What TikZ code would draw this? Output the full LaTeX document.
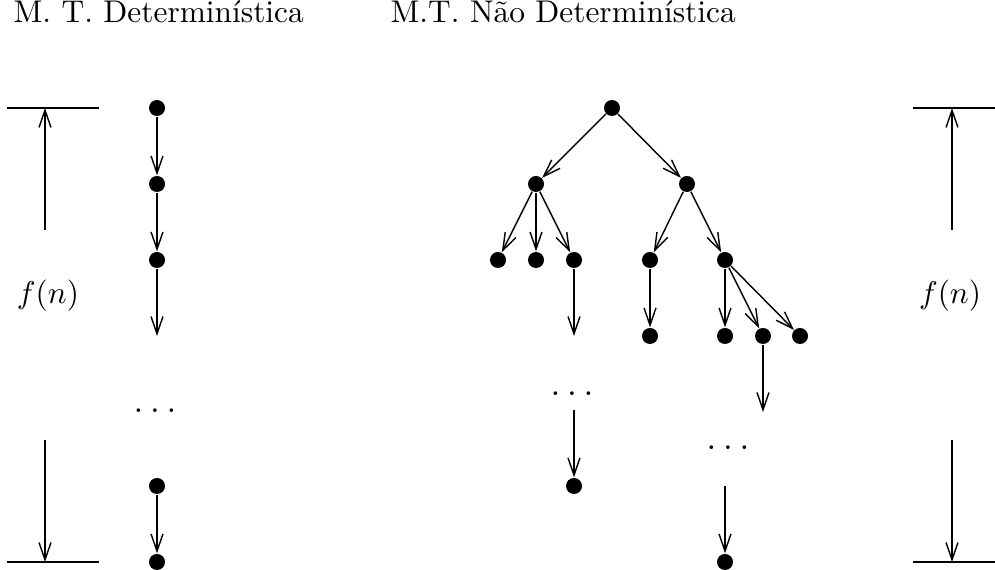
\documentclass[tikz,border=0pt]{standalone}
\usetikzlibrary{arrows.meta}
\begin{document}
\begin{tikzpicture}[x=0.3185pt,y=-0.3185pt,
  dot/.style={circle,fill,inner sep=0pt,minimum size=5.1pt},
  tip/.style={-{Straight Barb[length=5.5pt,width=3.8pt,line width'=0.45pt]}},
  thickarr/.style={tip,line width=0.85pt},
  midarr/.style={tip,line width=0.6pt},
  thinarr/.style={tip,line width=0.45pt},
  bar/.style={line width=0.85pt},
  lbl/.style={inner sep=0pt},
  ell/.style={inner sep=0pt,font=\fontsize{11.5}{14}\selectfont}]
\useasboundingbox (0,0) rectangle (995,570);

% titles
\node[lbl,anchor=base west] (t1) at (13,23) {M. T. Determinística};
\node[lbl,anchor=base west] (t2) at (390,23) {M.T. Não Determinística};

% left bracket
\coordinate (la) at (7,108); \coordinate (lb) at (99,108);
\coordinate (lc) at (7,562); \coordinate (ld) at (99,562);
\coordinate (lt) at (45,108); \coordinate (lbt) at (45,562);
\coordinate (ls1) at (45,230); \coordinate (ls2) at (45,440);
\draw[bar] (la) -- (lb);
\draw[bar] (lc) -- (ld);
\draw[midarr] (ls1) -- (lt);
\draw[midarr] (ls2) -- (lbt);
\node[lbl] (lf) at (48,296) {$f(n)$};

% right bracket
\coordinate (ra) at (913,108); \coordinate (rb) at (995,108);
\coordinate (rc) at (913,562); \coordinate (rd) at (995,562);
\coordinate (rt) at (952,108); \coordinate (rbt) at (952,562);
\coordinate (rs1) at (952,230); \coordinate (rs2) at (952,440);
\draw[bar] (ra) -- (rb);
\draw[bar] (rc) -- (rd);
\draw[midarr] (rs1) -- (rt);
\draw[midarr] (rs2) -- (rbt);
\node[lbl] (rf) at (950,296) {$f(n)$};

% deterministic chain
\node[dot] (d1) at (157,108) {};
\node[dot] (d2) at (157,184) {};
\node[dot] (d3) at (157,260) {};
\coordinate (d4) at (157,336);
\node[ell] (ddots) at (155,411) {$\ldots$};
\node[dot] (d5) at (157,486) {};
\node[dot] (d6) at (157,562) {};
\draw[thickarr] (d1) -- (d2);
\draw[thickarr] (d2) -- (d3);
\draw[thickarr] (d3) -- (d4);
\draw[thickarr] (d5) -- (d6);

% non-deterministic tree
\node[dot] (r) at (612,108) {};
\node[dot] (a) at (536,184) {};
\node[dot] (b) at (687,184) {};
\node[dot] (a1) at (498,260) {};
\node[dot] (a2) at (536,260) {};
\node[dot] (a3) at (574,260) {};
\node[dot] (b1) at (650,260) {};
\node[dot] (b2) at (725,260) {};
\coordinate (a3e) at (574,336);
\node[dot] (b1a) at (650,336) {};
\node[dot] (b2a) at (725,336) {};
\node[dot] (b2b) at (763,336) {};
\node[dot] (b2c) at (800,336) {};
\coordinate (b2be) at (763,412);
\node[ell] (tdots1) at (572,394) {$\ldots$};
\coordinate (tdots1s) at (574,410);
\node[dot] (tf1) at (574,486) {};
\node[ell] (tdots2) at (728,448) {$\ldots$};
\coordinate (tdots2s) at (725,486);
\node[dot] (tf2) at (725,562) {};

\draw[thinarr] (r) -- (a);
\draw[thinarr] (r) -- (b);
\draw[thinarr] (a) -- (a1);
\draw[thickarr] (a) -- (a2);
\draw[thinarr] (a) -- (a3);
\draw[thinarr] (b) -- (b1);
\draw[thinarr] (b) -- (b2);
\draw[thickarr] (a3) -- (a3e);
\draw[midarr] (b1) -- (b1a);
\draw[thickarr] (b2) -- (b2a);
\draw[thinarr] (b2) -- (b2b);
\draw[thinarr] (b2) -- (b2c);
\draw[thickarr] (b2b) -- (b2be);
\draw[thickarr] (tdots1s) -- (tf1);
\draw[thickarr] (tdots2s) -- (tf2);
\end{tikzpicture}
\end{document}
